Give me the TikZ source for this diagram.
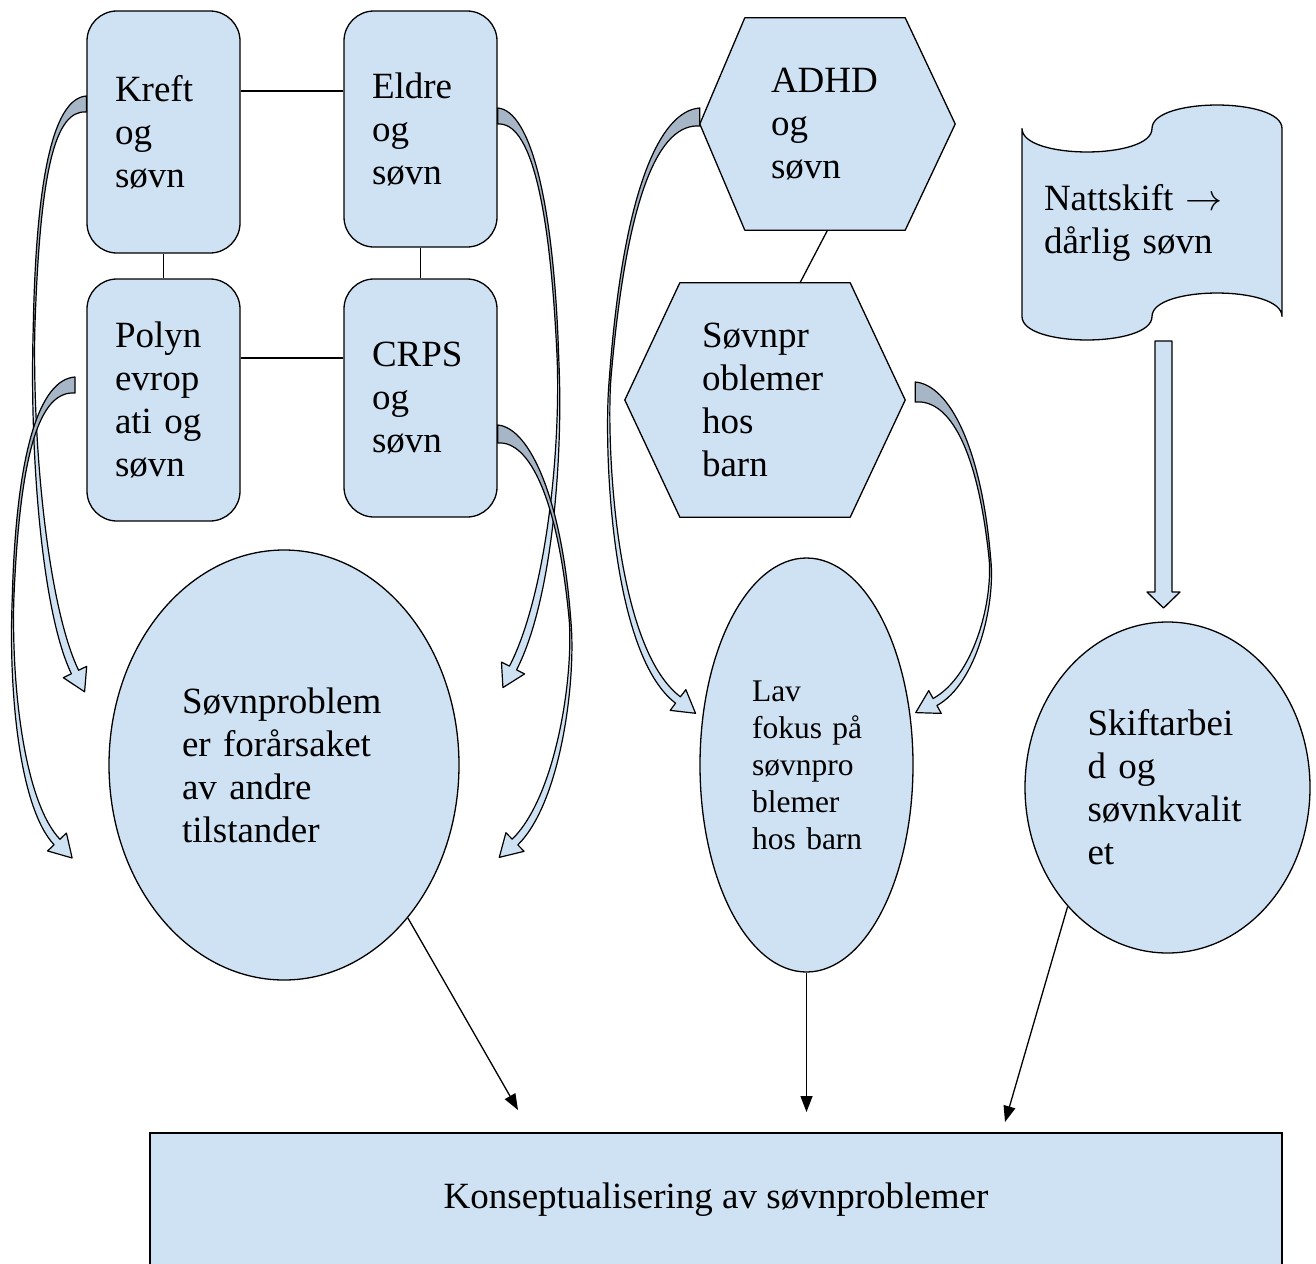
\RequirePackage{fix-cm}
\documentclass[tikz,border=0pt]{standalone}
\usepackage{fontspec}
\setmainfont{Liberation Serif}
\usetikzlibrary{shapes.geometric,arrows.meta,calc,backgrounds}
\definecolor{boxfill}{RGB}{207,226,243}
\definecolor{ribdark}{RGB}{166,182,198}
% curved ribbon arrow: q0..q3 dark face (tapering to a twist), q3..q6 light face, #8 = start half width
\newcommand{\cribbon}[8]{%
 \coordinate (q0) at (#1); \coordinate (q1) at (#2); \coordinate (q2) at (#3);
 \coordinate (q3) at (#4); \coordinate (q4) at (#5); \coordinate (q5) at (#6);
 \coordinate (q6) at (#7);
 \filldraw[ribbon, fill=ribdark]
  ($(q0)!#8pt!90:(q1)$) .. controls ($(q1)!#8pt*0.7!-90:(q0)$) and ($(q2)!2pt!90:(q3)$) .. ($(q3)!0.8pt!-90:(q2)$)
  -- ($(q3)!0.8pt!90:(q2)$) .. controls ($(q2)!2pt!-90:(q3)$) and ($(q1)!#8pt*0.7!90:(q0)$) .. ($(q0)!#8pt!-90:(q1)$) -- cycle;
 \filldraw[ribbon, fill=boxfill]
  ($(q3)!0.8pt!90:(q4)$) .. controls ($(q4)!1.5pt!-90:(q3)$) and ($(q5)!4pt!90:(q6)$) .. ($(q6)!4pt!-90:(q5)$)
  -- ($(q6)!13pt!-90:(q5)$) -- ($(q6)!22pt!180:(q5)$) -- ($(q6)!13pt!90:(q5)$) -- ($(q6)!4pt!90:(q5)$)
  .. controls ($(q5)!4pt!-90:(q6)$) and ($(q4)!1.5pt!90:(q3)$) .. ($(q3)!0.8pt!-90:(q4)$) -- cycle;
}
\begin{document}
\begin{tikzpicture}[x=1pt,y=-1pt,
  every node/.style={font=\fontsize{37}{43}\selectfont},
  rbox/.style={draw, line width=1.3pt, fill=boxfill, rounded corners=30pt,
     minimum width=153pt, text width=97pt, align=left, inner sep=0pt},
  ell/.style={draw, line width=1.3pt, fill=boxfill, ellipse, align=left, inner sep=0pt},
  txt/.style={align=left, inner sep=0pt},
  shp/.style={draw, line width=1.3pt, fill=boxfill, line join=round},
  ribbon/.style={draw=black, line width=1.2pt, line join=round},
  link/.style={line width=1.3pt},
  arr/.style={line width=1.3pt, -{Triangle[length=16pt,width=12pt]}}]
\useasboundingbox (0,0) rectangle (1316,1263);

% rounded boxes
\node[rbox, minimum height=242pt] (kreft) at (163.5,132) {Kreft\\og\\søvn};
\node[rbox, minimum height=236pt] (eldre) at (420.5,129) {Eldre\\og\\søvn};
\node[rbox, minimum height=242pt] (polyn) at (163.5,400) {Polyn\\evrop\\ati og\\søvn};
\node[rbox, minimum height=238pt] (crps) at (420.5,398) {CRPS\\og\\søvn};

% hexagon and document texts
\node[txt, minimum width=255pt, minimum height=212pt, text width=113pt] (adhd) at (827.5,124) {ADHD\\og\\søvn};
\node[txt, minimum width=280pt, minimum height=234pt, text width=126pt] (barn) at (765,400) {Søvnpr\\oblemer\\hos\\barn};
\node[txt, minimum width=260pt, minimum height=235pt, text width=216pt] (natt) at (1152,222.5) {Nattskift $\rightarrow$\\dårlig søvn};

\begin{scope}[on background layer]
 \fill[white] (0,0) rectangle (1316,1263);
 \draw[shp] ($(adhd.north west)+(45,0)$) -- ($(adhd.north east)+(-50,0)$) -- (adhd.east)
   -- ($(adhd.south east)+(-50,0)$) -- ($(adhd.south west)+(45,0)$) -- (adhd.west) -- cycle;
 \draw[shp] ($(barn.north west)+(55,0)$) -- ($(barn.north east)+(-55,0)$) -- (barn.east)
   -- ($(barn.south east)+(-55,0)$) -- ($(barn.south west)+(55,0)$) -- (barn.west) -- cycle;
 \draw[shp] ($(natt)+(-130,-94)$) .. controls ($(natt)+(-130,-62.7)$) and ($(natt)+(0,-62.7)$) .. ($(natt)+(0,-94)$)
   .. controls ($(natt)+(0,-125.3)$) and ($(natt)+(130,-125.3)$) .. ($(natt)+(130,-94)$)
   -- ($(natt)+(130,94)$)
   .. controls ($(natt)+(130,62.7)$) and ($(natt)+(0,62.7)$) .. ($(natt)+(0,94)$)
   .. controls ($(natt)+(0,125.3)$) and ($(natt)+(-130,125.3)$) .. ($(natt)+(-130,94)$) -- cycle;
\end{scope}

% ellipses
\node[ell, minimum width=350pt, minimum height=430pt, text width=204pt] (soevn) at (284,765)
  {Søvnproblem\\er forårsaket\\av andre\\tilstander};
\node[ell, minimum width=213pt, minimum height=414pt, text width=120pt,
  font=\fontsize{31.5}{37}\selectfont] (lav) at (806.5,765) {\hspace*{5.5pt}Lav\\\hspace*{5.5pt}fokus på\\\hspace*{5.5pt}søvnpro\\\hspace*{5.5pt}blemer\\\hspace*{5.5pt}hos barn};
\node[ell, minimum width=285pt, minimum height=331pt, text width=160pt] (skift) at (1167.5,787.5)
  {Skiftarbei\\d og\\søvnkvalit\\et};

% bottom rectangle
\node[draw, line width=1.3pt, fill=boxfill, minimum width=1132pt, minimum height=134pt, inner sep=0pt]
  (konsept) at (716,1200) {Konseptualisering av søvnproblemer};

% links between boxes
\draw[link] ([yshift=41pt]kreft.east) -- ([yshift=41pt]kreft.east -| eldre.west);
\draw[link] (kreft.south) -- (polyn.north);
\draw[link] (eldre.south) -- (crps.north);
\draw[link] ([yshift=42pt]polyn.east) -- ([yshift=42pt]polyn.east -| crps.west);
\draw[link] (adhd.south) -- ([xshift=35pt]barn.north);

% block arrow
\draw[shp] (1155,341) -- (1172,341) -- (1172,592) -- (1180,592) -- (1163.5,608) -- (1147,592) -- (1155,592) -- cycle;

% straight arrows to the bottom rectangle
\coordinate (k1) at (518,1110);
\coordinate (k2) at (806.5,1112);
\coordinate (k3) at (1005,1122);
\draw[arr] (soevn.-51) -- (k1);
\draw[arr] (lav.south) -- (k2);
\draw[arr] (skift.230) -- (k3);

% curved ribbon arrows
\cribbon{$(kreft.west)+(0,-28)$}{55,104}{38,170}{34,330}{31,450}{45,610}{75,672}{8}
\cribbon{75,385}{40,385}{18,450}{13,600}{10,690}{22,805}{57,842}{8}
\cribbon{$(eldre.east)+(0,-13)$}{530,116}{552,200}{558,360}{562,460}{548,600}{513,668}{8}
\cribbon{$(crps.east)+(0,36)$}{530,434}{560,500}{570,620}{575,680}{558,800}{515,842}{9}
\cribbon{$(adhd.west)+(0,-7)$}{660,117}{625,190}{610,380}{605,443}{612,650}{678,700}{9}
\cribbon{$(barn.east)+(10,-8)$}{950,392}{980,450}{990,560}{994,604}{975,680}{935,702}{10}
\end{tikzpicture}
\end{document}
